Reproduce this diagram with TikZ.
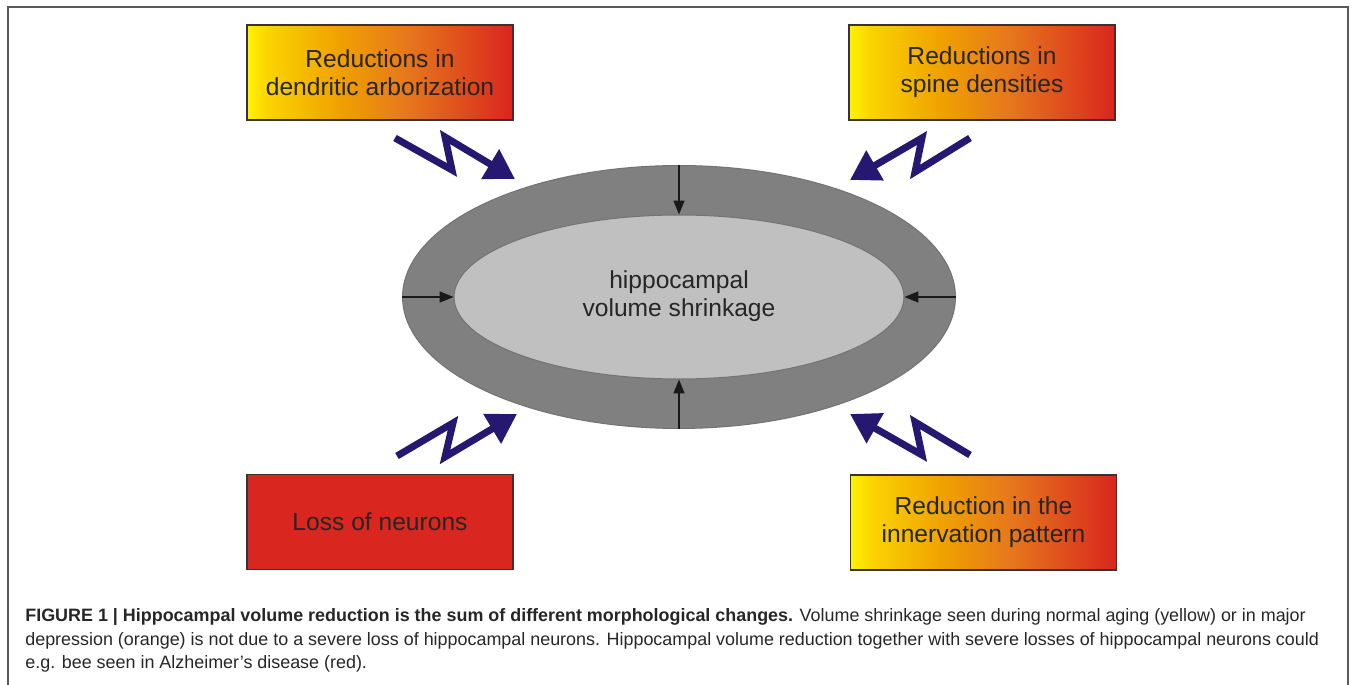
\documentclass[tikz,border=0pt]{standalone}
\usepackage{fontspec}
\setmainfont{Liberation Sans}
\usetikzlibrary{arrows.meta,shapes.geometric}
\definecolor{zigblue}{RGB}{38,24,112}
\definecolor{hotY}{RGB}{255,242,0}
\definecolor{hotG}{RGB}{250,212,0}
\definecolor{hotO}{RGB}{240,162,0}
\definecolor{hotM}{RGB}{230,120,28}
\definecolor{hotR}{RGB}{217,38,30}
\definecolor{ringgray}{RGB}{128,128,128}
\definecolor{coregray}{RGB}{192,192,192}
\definecolor{boxline}{RGB}{60,48,48}
\pgfdeclarehorizontalshading{heat}{100bp}{color(0bp)=(hotY); color(25bp)=(hotY); color(29bp)=(hotG); color(42bp)=(hotO); color(55bp)=(hotM); color(75bp)=(hotR); color(100bp)=(hotR)}

\begin{document}
\begin{tikzpicture}[x=0.02cm,y=-0.02cm,>=Triangle,
 change/.style={draw=boxline,line width=0.025cm,minimum width=5.32cm,minimum height=1.9cm,
   align=center,font=\fontsize{14}{16}\selectfont,text=black!85},
 hot/.style={change,shading=heat},
 zig/.style={zigblue,line width=0.14cm,-{Triangle[length=0.58cm,width=0.66cm]}},
 squeeze/.style={black!90,line width=0.03cm,-{Triangle[length=0.28cm,width=0.22cm]}},
 caption/.style={anchor=base west,inner sep=0pt,font=\fontsize{10.2}{12}\selectfont,text=black!85}]
\useasboundingbox (0,0) rectangle (1355,685);
\draw[black!65,line width=0.03cm] (8,685) -- (8,7) -- (1348,7) -- (1348,685);
% the four changes
\node[hot] (dendr) at (380,72.5) {Reductions in\\dendritic arborization};
\node[hot] (spine) at (982,72.5) {Reductions in\\spine densities};
\node[change,fill=hotR] (loss) at (380,522) {Loss of neurons};
\node[hot] (innerv) at (983.5,522.5) {Reduction in the\\innervation pattern};
% hippocampus
\node[ellipse,draw=black!55,line width=0.02cm,fill=ringgray,minimum width=11.06cm,minimum height=5.26cm] (outer) at (679,297) {};
\node[ellipse,draw=black!55,line width=0.02cm,fill=coregray,minimum width=9.0cm,minimum height=3.28cm] (inner) at (679,297) {};
\node[align=center,font=\fontsize{14}{16}\selectfont,text=black!85] (label) at (679,296) {hippocampal\\volume shrinkage};
\foreach \a in {north,south,east,west} \draw[squeeze] (outer.\a) -- (inner.\a);
% zigzag arrows
\foreach \xa/\ya/\xb/\yb/\xc/\yc/\xd/\yd in {395/138/452/170/445/137/515/179,
 970/138/915/172/922/138/850/180, 397/456/453/423/445/457/517/414,
 970/455/915/422/922/455/850/414}
  \draw[zig] (\xa,\ya) -- (\xb,\yb) -- (\xc,\yc) -- (\xd,\yd);
% caption
\node[caption] (cap1) at (25,621) {\textbf{FIGURE 1 | Hippocampal volume reduction is the sum of different morphological changes.} Volume shrinkage seen during normal aging (yellow) or in major};
\node[caption] (cap2) at (25,645) {depression (orange) is not due to a severe loss of hippocampal neurons. Hippocampal volume reduction together with severe losses of hippocampal neurons could};
\node[caption] (cap3) at (25,668) {e.g. bee seen in Alzheimer’s disease (red).};
\end{tikzpicture}
\end{document}
